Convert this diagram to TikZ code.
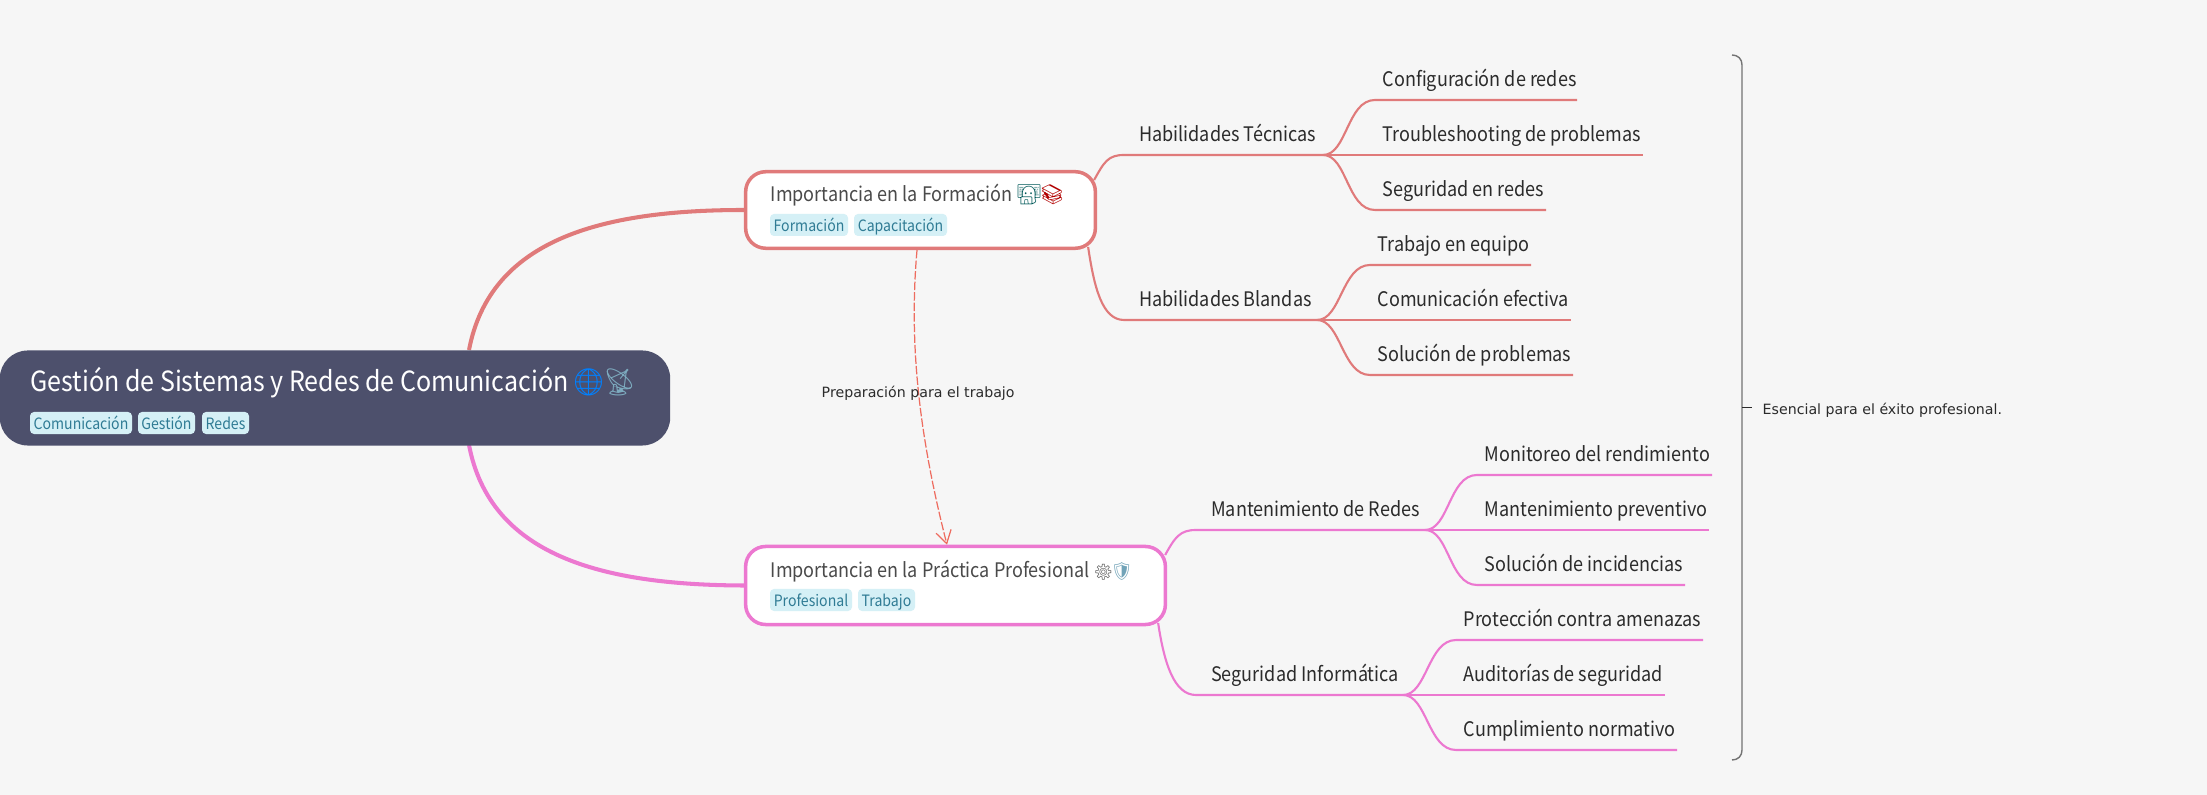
\documentclass[tikz,border=0pt]{standalone}
\usepackage{fontspec}
\setmainfont[FakeStretch=0.9]{Noto Sans CJK JP}
\newfontfamily\labelfont{DejaVu Sans}
\newfontfamily\emojifont{Noto Emoji}
\usetikzlibrary{arrows.meta}
\definecolor{pagebg}{HTML}{F6F6F6}
\definecolor{rootfill}{HTML}{4D506C}
\definecolor{formcol}{HTML}{E07A7A}
\definecolor{praccol}{HTML}{EC78D0}
\definecolor{relcol}{HTML}{EE6C5F}
\definecolor{tagfill}{HTML}{D5F0F6}
\definecolor{tagtext}{HTML}{2F7B94}
\definecolor{leaftext}{HTML}{2B2B2B}
\definecolor{boxtext}{HTML}{4A4A4A}
\tikzset{
  rootbox/.style={fill=rootfill,rounded corners=0.28cm,minimum width=6.7cm,minimum height=0.95cm,inner sep=0pt},
  mainbox/.style={draw=#1,fill=white,line width=1pt,rounded corners=0.2cm,inner sep=0pt},
  title/.style={anchor=base west,inner sep=0pt,text=boxtext,font=\fontsize{5.7}{7}\selectfont},
  tagbox/.style={fill=tagfill,text=tagtext,rounded corners=0.04cm,minimum height=0.22cm,inner sep=0pt,text height=4pt,text depth=0.2pt,font=\fontsize{4.45}{6}\selectfont},
  leaf/.style={anchor=base west,inner sep=0pt,text=leaftext,font=\fontsize{5.7}{7}\selectfont},
  note/.style={inner sep=0pt,text=leaftext,font=\labelfont\fontsize{4.03}{5}\selectfont},
  emoji/.style={anchor=base west,inner sep=0pt,font=\emojifont\fontsize{#1}{#1}\selectfont},
}
\begin{document}
\begin{tikzpicture}[x=0.01cm,y=-0.01cm,>={Straight Barb[length=3.6pt,width=4.4pt]}]
\path[use as bounding box,fill=pagebg] (0,0) rectangle (2207,795);
% boxes
\node[mainbox=formcol,minimum width=3.495cm,minimum height=0.765cm] (form) at (920.5,210) {};
\node[mainbox=praccol,minimum width=4.195cm,minimum height=0.78cm] (prac) at (955.5,585.5) {};
\coordinate (rootup) at (469,350);
\coordinate (rootdown) at (469,445);
\draw[formcol,line width=1.15pt] (rootup) .. controls (490,240) and (600,210) .. (form.west);
\draw[praccol,line width=1.15pt] (rootdown) .. controls (490,555) and (600,585) .. (prac.west);
\node[rootbox] (root) at (335,398) {};
% titles
\node[title,text=white,font=\fontsize{7.9}{10}\selectfont] (roottitle) at (30,392) {Gestión de Sistemas y Redes de Comunicación};
\node[emoji=7.6,text=blue!50!cyan] (globe) at (571,392) {🌐};
\node[emoji=7.6,text=gray!60!cyan!90!white] (dish) at (602,392) {📡};
\node[title] (formtitle) at (770,202) {Importancia en la Formación};
\node[emoji=5.6,text=teal!70!black] (techie) at (1016,202) {👨‍💻};
\node[emoji=5.6,text=red!70!black] (books) at (1039,202) {📚};
\node[title] (practitle) at (770,578) {Importancia en la Práctica Profesional};
\node[emoji=4.4,text=boxtext] (gear) at (1093,578) {⚙};
\node[emoji=5,text=gray!60!cyan] (shield) at (1110,578) {🛡};
% tags
\foreach \nm/\xs/\xe/\yy/\txt in {tagcom/30/132/423/Comunicación,taggest/138/195/423/Gestión,tagred/202/249/423/Redes,
  tagform/770/848/225/Formación,tagcap/854/947/225/Capacitación,
  tagprof/770/852/600/Profesional,tagtrab/858/915/600/Trabajo}{
  \node[tagbox,minimum width={(\xe-\xs)*0.01cm}] (\nm) at ({(\xs+\xe)/2},\yy) {\txt};}
% branches
\foreach \nm/\xs/\xe/\yy/\txt in {habtec/1124/1323/155/Habilidades Técnicas,habbla/1124/1317/320/Habilidades Blandas,
  manred/1196/1425/530/Mantenimiento de Redes,seginf/1196/1403/695/Seguridad Informática}{
  \coordinate (\nm-a) at (\xs,\yy);
  \coordinate (\nm-b) at (\xe,\yy);
  \node[leaf] (\nm) at (\xs+14.5,\yy-13) {\txt};}
\draw[formcol,line width=0.6pt] ([shift={(-3,-30)}]form.east) .. controls +(10,-18) and +(-16,0) .. (habtec-a) -- (habtec-b);
\draw[formcol,line width=0.6pt] ([shift={(-9,37)}]form.east) .. controls +(6,40) and +(-22,0) .. (habbla-a) -- (habbla-b);
\draw[praccol,line width=0.6pt] ([shift={(-2,-30.5)}]prac.east) .. controls +(10,-18) and +(-16,0) .. (manred-a) -- (manred-b);
\draw[praccol,line width=0.6pt] ([shift={(-9,37.5)}]prac.east) .. controls +(6,40) and +(-22,0) .. (seginf-a) -- (seginf-b);
% leaves
\foreach \nm/\parent/\col/\xs/\xe/\yy/\txt in {
  confred/habtec-b/formcol/1375/1577/100/Configuración de redes,
  troubl/habtec-b/formcol/1375/1643/155/Troubleshooting de problemas,
  segred/habtec-b/formcol/1375/1546/210/Seguridad en redes,
  trabeq/habbla-b/formcol/1370/1531/265/Trabajo en equipo,
  comefe/habbla-b/formcol/1370/1571/320/Comunicación efectiva,
  solpro/habbla-b/formcol/1370/1573/375/Solución de problemas,
  monren/manred-b/praccol/1477/1712/475/Monitoreo del rendimiento,
  manpre/manred-b/praccol/1477/1709/530/Mantenimiento preventivo,
  solinc/manred-b/praccol/1477/1685/585/Solución de incidencias,
  proame/seginf-b/praccol/1456/1703/640/Protección contra amenazas,
  audseg/seginf-b/praccol/1456/1665/695/Auditorías de seguridad,
  cumnor/seginf-b/praccol/1456/1677/750/Cumplimiento normativo}{
  \coordinate (\nm-a) at (\xs,\yy);
  \coordinate (\nm-b) at (\xe,\yy);
  \node[leaf] (\nm) at (\xs+7,\yy-13) {\txt};
  \draw[\col,line width=0.6pt] (\parent) .. controls +(24,0) and +(-28,0) .. (\nm-a) -- (\nm-b);}
% relationship
\draw[relcol,line width=0.35pt,dash pattern=on 2.4pt off 0.6pt,->] ([xshift=-0.035cm]form.south) .. controls (910,330) and (915,420) .. ([xshift=-0.085cm]prac.north);
\node[note,anchor=base west] (rellabel) at (821,398) {Preparación para el trabajo};
% summary
\coordinate (bracetop) at (1732,55);
\coordinate (bracebot) at (1732,760);
\coordinate (bracemid) at (1742,407);
\draw[gray!90!black,line width=0.4pt] (bracetop) .. controls (1738,55) and (1742,59) .. (1742,65) -- (1742,750) .. controls (1742,756) and (1738,760) .. (bracebot);
\node[note,anchor=base west] (summary) at (1762,415) {Esencial para el éxito profesional.};
\draw[leaftext,line width=0.25pt] (bracemid) -- +(10,0);
\end{tikzpicture}
\end{document}
